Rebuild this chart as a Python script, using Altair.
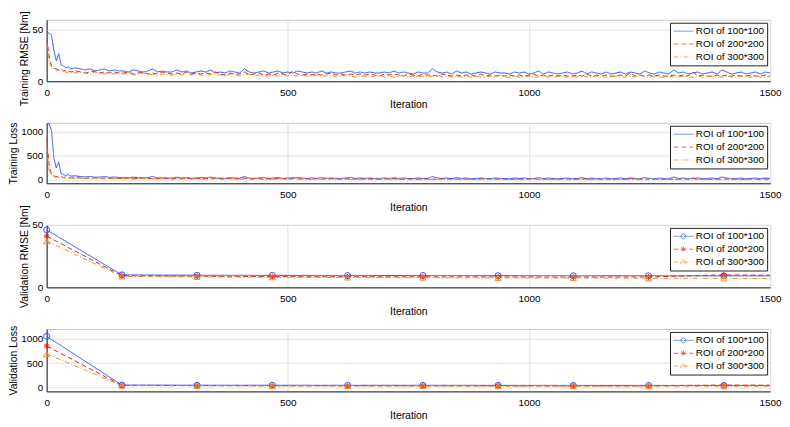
import altair as alt
import pandas as pd

FONT = "Liberation Sans"

series = ["ROI of 100*100", "ROI of 200*200", "ROI of 300*300"]
colors = ["#2457ff", "#e5231d", "#f08c28"]
dashes = [[1, 0], [5, 3], [5, 2, 1, 2]]
plot_shapes = [
    "circle",
    "M-1,0H1M0,-1V1M-0.7,-0.7L0.7,0.7M-0.7,0.7L0.7,-0.7",
    "triangle-up",
]
legend_line = "M-1,0H3"
legend_marker_paths = [
    "M-1,0H3M1.5,0A0.5,0.5,0,1,1,0.5,0A0.5,0.5,0,1,1,1.5,0",
    "M-1,0H3M0.45,0H1.55M1,-0.55V0.55M0.6,-0.4L1.4,0.4M0.6,0.4L1.4,-0.4",
    "M-1,0H3M1,-0.6L1.55,0.35L0.45,0.35Z",
]

x_ticks = [0, 500, 1000, 1500]

train_iter = [0, 5, 10, 15, 20, 25, 30, 35, 40, 45, 50] + list(range(60, 1501, 10))

rmse_100 = [
    48, 47, 45, 30, 20, 27, 16, 15, 13, 14, 12,
    13, 12, 11, 12, 10, 11, 12, 10, 11, 10,
    10, 9, 11, 10, 9, 10, 12, 9, 10, 9,
    9, 11, 9, 10, 8, 9, 10, 9, 11, 8,
    9, 8, 10, 9, 8, 12, 9, 8, 9, 10,
    8, 9, 10, 8, 9, 8, 10, 9, 8, 9,
    8, 10, 8, 9, 8, 8, 9, 10, 8, 9,
    8, 9, 8, 8, 9, 8, 10, 8, 9, 8,
    7, 9, 8, 8, 12, 9, 8, 9, 7, 10,
    8, 9, 7, 8, 9, 8, 7, 9, 8, 8,
    7, 9, 8, 9, 7, 8, 10, 7, 9, 8,
    7, 8, 9, 7, 8, 10, 7, 9, 8, 7,
    9, 7, 8, 9, 7, 9, 8, 7, 10, 8,
    7, 9, 8, 7, 11, 8, 9, 7, 8, 9,
    7, 8, 9, 7, 11, 9, 7, 8, 9, 7,
    8, 9, 7, 9, 8,
]
rmse_200 = [
    42, 25, 15, 13, 12, 11, 12, 10, 11, 10, 9,
    10, 9, 8, 9, 10, 8, 9, 8, 9, 8,
    8, 9, 7, 8, 9, 7, 8, 7, 9, 8,
    7, 8, 7, 9, 7, 8, 7, 8, 7, 9,
    7, 6, 8, 7, 7, 9, 6, 7, 8, 6,
    7, 6, 8, 7, 6, 10, 7, 6, 7, 6,
    7, 6, 7, 8, 6, 7, 6, 7, 6, 7,
    6, 7, 6, 5, 7, 6, 7, 6, 5, 7,
    6, 5, 7, 6, 6, 5, 7, 6, 5, 6,
    5, 6, 6, 5, 7, 5, 6, 5, 6, 5,
    6, 5, 6, 5, 6, 7, 5, 6, 5, 6,
    5, 6, 5, 5, 6, 5, 7, 5, 6, 5,
    6, 5, 5, 6, 5, 8, 5, 6, 5, 6,
    5, 6, 5, 5, 6, 5, 6, 5, 9, 5,
    6, 5, 5, 6, 5, 6, 5, 6, 5, 5,
    6, 5, 5, 6, 5,
]
rmse_300 = [
    37, 20, 14, 12, 10, 11, 9, 10, 9, 8, 9,
    8, 9, 8, 7, 9, 8, 7, 8, 7, 8,
    7, 8, 6, 7, 8, 6, 7, 6, 7, 6,
    6, 7, 6, 8, 6, 7, 6, 5, 7, 6,
    6, 5, 7, 6, 5, 6, 7, 5, 6, 5,
    5, 6, 5, 7, 5, 6, 5, 6, 5, 5,
    6, 5, 5, 6, 4, 5, 6, 5, 4, 5,
    5, 4, 5, 6, 4, 5, 4, 5, 6, 4,
    5, 4, 5, 4, 5, 6, 4, 5, 4, 5,
    4, 5, 4, 5, 4, 4, 5, 4, 6, 4,
    4, 5, 4, 4, 5, 4, 4, 5, 4, 4,
    5, 4, 4, 5, 4, 6, 4, 4, 5, 4,
    4, 4, 5, 4, 4, 5, 4, 7, 4, 4,
    5, 4, 4, 5, 4, 4, 5, 4, 4, 5,
    4, 4, 5, 4, 4, 5, 4, 4, 5, 4,
    4, 5, 4, 4, 5,
]

loss_100 = [
    1150, 1170, 1030, 450, 250, 370, 130, 110, 95, 110, 80,
    85, 70, 62, 75, 55, 60, 72, 52, 60, 50,
    50, 42, 58, 48, 40, 50, 70, 42, 48, 40,
    42, 58, 40, 48, 35, 40, 50, 42, 60, 34,
    40, 33, 48, 40, 33, 70, 40, 32, 40, 48,
    33, 40, 48, 32, 40, 33, 50, 40, 32, 40,
    32, 48, 33, 40, 32, 31, 40, 50, 32, 40,
    32, 40, 31, 32, 40, 31, 48, 32, 40, 30,
    26, 40, 31, 30, 70, 40, 31, 40, 25, 48,
    31, 40, 25, 30, 40, 30, 26, 40, 31, 30,
    25, 40, 31, 40, 25, 30, 48, 25, 40, 30,
    25, 31, 40, 25, 30, 48, 25, 40, 30, 25,
    40, 25, 31, 40, 25, 40, 30, 25, 48, 31,
    25, 40, 30, 25, 60, 30, 40, 25, 31, 40,
    25, 30, 40, 25, 60, 40, 25, 31, 40, 25,
    31, 40, 25, 40, 30,
]
loss_200 = [
    880, 320, 115, 85, 72, 60, 72, 50, 60, 50, 40,
    50, 40, 32, 40, 50, 32, 40, 32, 40, 32,
    32, 40, 25, 32, 40, 25, 32, 25, 40, 32,
    25, 32, 25, 40, 25, 32, 25, 32, 25, 40,
    25, 18, 32, 25, 25, 40, 18, 25, 32, 18,
    25, 18, 32, 25, 18, 50, 25, 18, 25, 18,
    25, 18, 25, 32, 18, 25, 18, 25, 18, 25,
    18, 25, 18, 12, 25, 18, 25, 18, 12, 25,
    18, 12, 25, 18, 18, 12, 25, 18, 12, 18,
    12, 18, 18, 12, 25, 12, 18, 12, 18, 12,
    18, 12, 18, 12, 18, 25, 12, 18, 12, 18,
    12, 18, 12, 12, 18, 12, 25, 12, 18, 12,
    18, 12, 12, 18, 12, 32, 12, 18, 12, 18,
    12, 18, 12, 12, 18, 12, 18, 12, 40, 12,
    18, 12, 12, 18, 12, 18, 12, 18, 12, 12,
    18, 12, 12, 18, 12,
]
loss_300 = [
    680, 200, 98, 72, 50, 60, 40, 50, 40, 32, 40,
    32, 40, 32, 25, 40, 32, 25, 32, 25, 32,
    25, 32, 18, 25, 32, 18, 25, 18, 25, 18,
    18, 25, 18, 32, 18, 25, 18, 12, 25, 18,
    18, 12, 25, 18, 12, 18, 25, 12, 18, 12,
    12, 18, 12, 25, 12, 18, 12, 18, 12, 12,
    18, 12, 12, 18, 8, 12, 18, 12, 8, 12,
    12, 8, 12, 18, 8, 12, 8, 12, 18, 8,
    12, 8, 12, 8, 12, 18, 8, 12, 8, 12,
    8, 12, 8, 12, 8, 8, 12, 8, 18, 8,
    8, 12, 8, 8, 12, 8, 8, 12, 8, 8,
    12, 8, 8, 12, 8, 18, 8, 8, 12, 8,
    8, 8, 12, 8, 8, 12, 8, 25, 8, 8,
    12, 8, 8, 12, 8, 8, 12, 8, 8, 12,
    8, 8, 12, 8, 8, 12, 8, 8, 12, 8,
    8, 12, 8, 8, 12,
]

val_iter = [0, 156, 312, 468, 624, 780, 936, 1092, 1248, 1404, 1500]
val_marker = [True, True, True, True, True, True, True, True, True, True, False]
val_rmse_100 = [46, 10, 9.7, 9.6, 9.5, 9.5, 9.4, 9.3, 9.3, 9.2, 9.2]
val_rmse_200 = [41, 9.4, 8.9, 8.6, 8.5, 8.4, 8.3, 8.2, 8.3, 10, 9.7]
val_rmse_300 = [37, 8.8, 8.4, 8.1, 7.9, 7.8, 7.6, 7.5, 7.3, 7.2, 7.0]
val_loss_100 = [1050, 50, 47, 46, 45, 45, 44, 43, 43, 42, 42]
val_loss_200 = [850, 44, 40, 37, 36, 35, 34, 34, 34, 50, 47]
val_loss_300 = [690, 39, 35, 33, 31, 30, 29, 28, 27, 26, 25]


def long_df(iters, arrays, marks=None):
    rows = []
    for s, arr in zip(series, arrays):
        for j, (it, v) in enumerate(zip(iters, arr)):
            rows.append({"series": s, "iter": it, "value": v,
                         "marker": marks[j] if marks else False})
    return pd.DataFrame(rows)


df_tr_rmse = long_df(train_iter, [rmse_100, rmse_200, rmse_300])
df_tr_loss = long_df(train_iter, [loss_100, loss_200, loss_300])
df_va_rmse = long_df(val_iter, [val_rmse_100, val_rmse_200, val_rmse_300], val_marker)
df_va_loss = long_df(val_iter, [val_loss_100, val_loss_200, val_loss_300], val_marker)
legend_df = pd.DataFrame({"series": series})


def panel(df, ytitle, ydomain, yticks, height, markers, title_y=None):
    x = alt.X("iter:Q", scale=alt.Scale(domain=[0, 1500], nice=False, zero=False),
              axis=alt.Axis(values=x_ticks, title="Iteration", format="d",
                            labelFlush=False, labelPadding=6, titlePadding=3))
    yaxis_kw = dict(values=yticks, title=ytitle, format="d",
                    labelFlush=False, labelPadding=4, titlePadding=2)
    if title_y is not None:
        yaxis_kw["titleY"] = title_y
    y = alt.Y("value:Q", scale=alt.Scale(domain=ydomain, nice=False, zero=False),
              axis=alt.Axis(**yaxis_kw))
    layers = []
    for i, s in enumerate(series):
        d = df[df["series"] == s]
        layers.append(alt.Chart(d).mark_line(color=colors[i], strokeDash=dashes[i],
                                             strokeWidth=1, clip=True).encode(x=x, y=y))
        if markers:
            layers.append(alt.Chart(d[d["marker"]]).mark_point(
                shape=plot_shapes[i], color=colors[i], filled=False, size=36,
                strokeWidth=1, opacity=1).encode(x=x, y=y))
    paths = legend_marker_paths if markers else [legend_line] * 3
    leg = alt.Legend(title=None, orient="top-right", offset=3, fillColor="white",
                     strokeColor="#222", padding=3, symbolSize=100, symbolStrokeWidth=1,
                     symbolFillColor="transparent", labelFontSize=10, labelFont=FONT,
                     labelOffset=12, rowPadding=2, labelColor="black", cornerRadius=0)
    legend_layer = alt.Chart(legend_df).mark_point(filled=False, strokeWidth=1).encode(
        color=alt.Color("series:N", scale=alt.Scale(domain=series, range=colors), legend=leg),
        strokeDash=alt.StrokeDash("series:N", scale=alt.Scale(domain=series, range=dashes), legend=leg),
        shape=alt.Shape("series:N", scale=alt.Scale(domain=series, range=paths), legend=leg),
    ).transform_filter("false")
    layers.append(legend_layer)
    return alt.layer(*layers).properties(width=730, height=height)


p1 = panel(df_tr_rmse, "Training RMSE [Nm]", [0, 60], [0, 50], 62, False, title_y=39)
p2 = panel(df_tr_loss, "Training Loss", [-70, 1190], [0, 500, 1000], 61, False)
p3 = panel(df_va_rmse, "Validation RMSE [Nm]", [0, 50], [0, 50], 63, True)
p4 = panel(df_va_loss, "Validation Loss", [-80, 1200], [0, 500, 1000], 63, True)

chart = alt.vconcat(p1, p2, p3, p4, spacing=42, bounds="flush").resolve_scale(
    color="independent", strokeDash="independent", shape="independent"
).resolve_legend(
    color="independent", strokeDash="independent", shape="independent"
).properties(
    padding={"left": 0, "top": 0, "right": 0, "bottom": 0},
    background="white",
).configure(font=FONT).configure_view(
    stroke="#c8c8c8", strokeWidth=1
).configure_axis(
    grid=True, gridColor="#e2e2e2", gridWidth=1, ticks=False,
    domainColor="#222", domainWidth=1,
    labelFont=FONT, labelFontSize=10, labelColor="black",
    titleFont=FONT, titleFontSize=10.5, titleFontWeight="normal", titleColor="black",
)

chart.save("out.html", embed_options={"renderer": "svg", "actions": False})
